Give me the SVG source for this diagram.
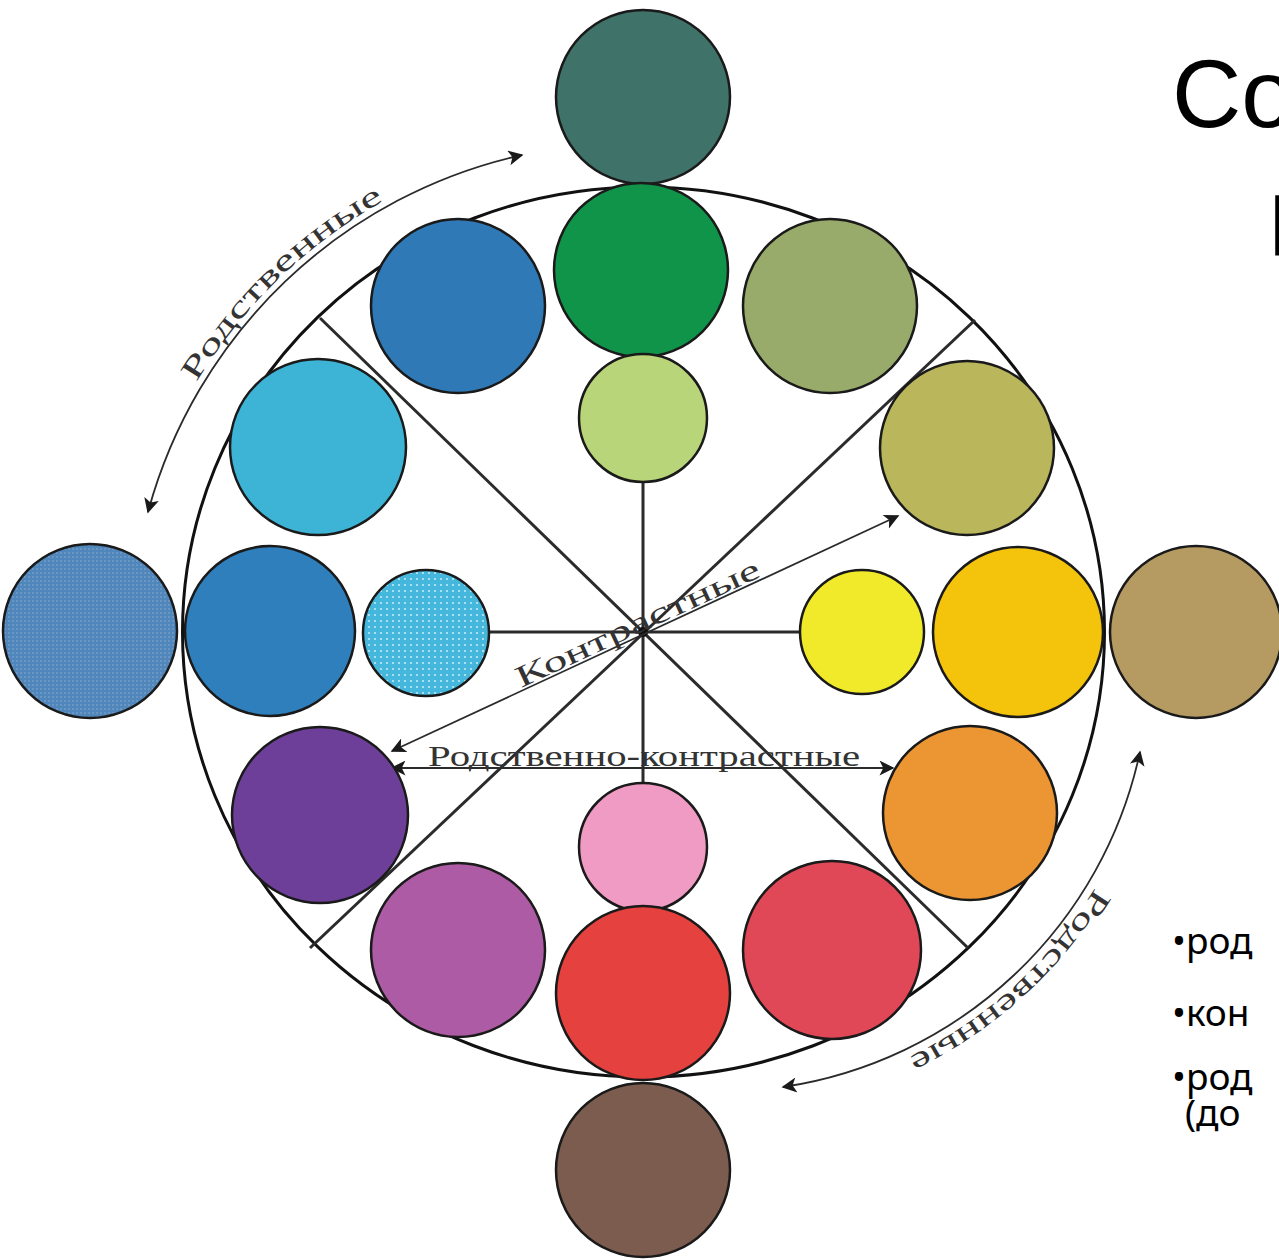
<svg xmlns="http://www.w3.org/2000/svg" width="1279" height="1260" viewBox="0 0 1279 1260">
<style>
.c{stroke:#1a1a1a;stroke-width:2.5}
.sp{stroke:#2b2b2b;stroke-width:3;fill:none}
.ar{stroke:#2b2b2b;stroke-width:1.8;fill:none;marker-start:url(#ah);marker-end:url(#ah)}
.lbl{font-family:"Liberation Serif","DejaVu Serif",serif;fill:#333;font-size:30px}
.ttl{font-family:"Liberation Sans",Arial,sans-serif;fill:#000}
.bul{font-family:"Noto Sans","Open Sans",sans-serif;fill:#000;font-size:37px}
</style>
<defs>
<marker id="ah" viewBox="0 0 10 10" refX="9" refY="5" markerWidth="22" markerHeight="15" markerUnits="userSpaceOnUse" orient="auto-start-reverse">
<path d="M0,0 L10,5 L0,10 L2.5,5 z" fill="#1a1a1a"/>
</marker>
<pattern id="dots" width="6" height="6" patternUnits="userSpaceOnUse">
<rect width="6" height="6" fill="#45b7dc"/>
<circle cx="3" cy="3" r="1.1" fill="#bfeaf6"/>
</pattern>
<pattern id="hatch" width="4" height="4" patternUnits="userSpaceOnUse">
<rect width="4" height="4" fill="#4f86bb"/>
<rect width="2" height="2" fill="#6b96c2"/>
</pattern>
<path id="tpTL" d="M196.3,382.4 A506,506 0 0 1 384.7,200.5"/>
<path id="tpBR" d="M1095.1,887.4 A438,438 0 0 1 908.3,1057.1"/>
</defs>
<rect width="1279" height="1260" fill="#fff"/>

<g id="wheel">
<ellipse cx="643.5" cy="632" rx="461" ry="445" fill="none" stroke="#111" stroke-width="3"/>
</g>

<g id="spokes">
<line class="sp" x1="643" y1="480" x2="643" y2="785"/>
<line class="sp" x1="490" y1="632" x2="800" y2="632"/>
<line class="sp" x1="320" y1="318" x2="968" y2="948"/>
<line class="sp" x1="975" y1="320" x2="310" y2="948"/>
<circle cx="643" cy="632" r="5" fill="#111"/>
</g>

<g id="connectors">
<path class="ar" d="M148,512 A500,500 0 0 1 522,155"/>
<path class="ar" d="M1140,752 A430,430 0 0 1 783,1087"/>
<line class="ar" x1="392" y1="751" x2="898" y2="516"/>
<line class="ar" x1="392" y1="768" x2="893" y2="768"/>
</g>

<g id="labels">
<text class="lbl"><textPath href="#tpTL" textLength="264" lengthAdjust="spacingAndGlyphs">Родственные</textPath></text>
<text class="lbl"><textPath href="#tpBR" textLength="256" lengthAdjust="spacingAndGlyphs">Родственные</textPath></text>
<text class="lbl" transform="translate(521,688) rotate(-24.9)" textLength="266" lengthAdjust="spacingAndGlyphs">Контрастные</text>
<text class="lbl" x="428" y="766" textLength="432" lengthAdjust="spacingAndGlyphs">Родственно-контрастные</text>
</g>

<g id="n-top-outer"><circle class="c" cx="643" cy="97" r="87" fill="#3f7268"/></g>
<g id="n-top-green"><circle class="c" cx="641" cy="270" r="87" fill="#10944a"/></g>
<g id="n-top-light"><circle class="c" cx="643" cy="418" r="64" fill="#b9d57a"/></g>
<g id="n-ul-blue"><circle class="c" cx="458" cy="306" r="87" fill="#2f79b6"/></g>
<g id="n-ur-olive"><circle class="c" cx="830" cy="306" r="87" fill="#98ab6a"/></g>
<g id="n-l-cyan"><circle class="c" cx="318" cy="447" r="88" fill="#3db3d6"/></g>
<g id="n-r-olive"><circle class="c" cx="967" cy="448" r="87" fill="#b9b65b"/></g>
<g id="n-l-outer"><circle class="c" cx="90" cy="631" r="87" fill="url(#hatch)"/></g>
<g id="n-l-blue"><circle class="c" cx="270" cy="631" r="85" fill="#2f7fbc"/></g>
<g id="n-l-small"><circle class="c" cx="426" cy="633" r="63" fill="url(#dots)"/></g>
<g id="n-r-yellow"><circle class="c" cx="862" cy="632" r="62" fill="#f1ea2a"/></g>
<g id="n-r-gold"><circle class="c" cx="1018" cy="632" r="85" fill="#f4c30c"/></g>
<g id="n-r-outer"><circle class="c" cx="1196" cy="632" r="86" fill="#b59b62"/></g>
<g id="n-l-purple"><circle class="c" cx="320" cy="815" r="88" fill="#6d3f98"/></g>
<g id="n-r-orange"><circle class="c" cx="970" cy="813" r="87" fill="#ec9533"/></g>
<g id="n-ll-magenta"><circle class="c" cx="458" cy="950" r="87" fill="#ad5ba4"/></g>
<g id="n-lr-red"><circle class="c" cx="832" cy="950" r="89" fill="#e04757"/></g>
<g id="n-bot-pink"><circle class="c" cx="643" cy="847" r="64" fill="#f09bc4"/></g>
<g id="n-bot-red"><circle class="c" cx="643" cy="993" r="87" fill="#e4413f"/></g>
<g id="n-bot-outer"><circle class="c" cx="643" cy="1170" r="87" fill="#7b5c4e"/></g>

<g id="title">
<text class="ttl" x="1172" y="127" font-size="96">Со</text>
<text class="ttl" x="1268" y="255" font-size="88">Г</text>
</g>
<g id="bullets">
<text class="bul" x="1172" y="954">•род</text>
<text class="bul" x="1172" y="1026">•кон</text>
<text class="bul" x="1172" y="1090">•род</text>
<text class="bul" x="1185" y="1126">(до</text>
</g>
</svg>
